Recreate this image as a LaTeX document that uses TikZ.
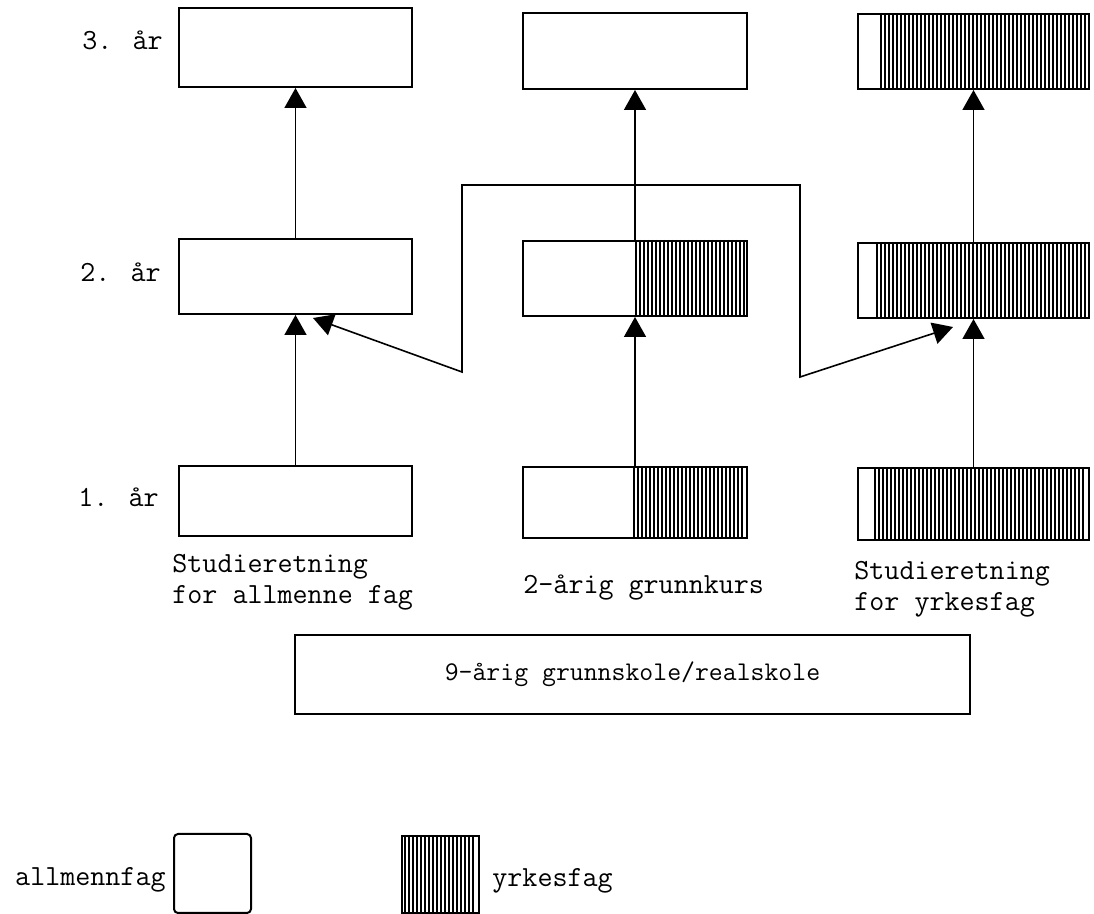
\documentclass[tikz,border=0pt]{standalone}
\usepackage{fontspec}
\usetikzlibrary{arrows.meta}
\begin{document}
\begin{tikzpicture}[x=0.5pt,y=-0.5pt,
  box/.style={draw,line width=1pt,inner sep=0pt,anchor=north west},
  hatch/.style={line width=0.7pt},
  arr/.style={line width=0.8pt,-{Triangle[length=10pt,width=11pt]}},
  lbl/.style={font=\ttfamily\fontsize{14.6}{17}\selectfont,inner sep=0pt},
  lblsmall/.style={font=\ttfamily\fontsize{13.5}{16}\selectfont,inner sep=0pt}]
\useasboundingbox (0,0) rectangle (1094,914);
% hatching
\foreach \x in {636,640,...,744} \draw[hatch] (\x,240) -- (\x,315);
\foreach \x in {634,638,...,744} \draw[hatch] (\x,466) -- (\x,537);
\foreach \x in {881,885,...,1086} \draw[hatch] (\x,13) -- (\x,88);
\foreach \x in {877,881,...,1086} \draw[hatch] (\x,242) -- (\x,317);
\foreach \x in {875,879,...,1086} \draw[hatch] (\x,467) -- (\x,539);
\foreach \x in {405,409,...,476} \draw[hatch] (\x,835) -- (\x,912);
% boxes
\node[box,minimum width=116.5pt,minimum height=39.5pt] (a3) at (178,7) {};
\node[box,minimum width=116.5pt,minimum height=37.5pt] (a2) at (178,238) {};
\node[box,minimum width=116.5pt,minimum height=35pt] (a1) at (178,465) {};
\node[box,minimum width=112pt,minimum height=38pt] (b3) at (522,12) {};
\node[box,minimum width=112pt,minimum height=37.5pt] (b2) at (522,240) {};
\node[box,minimum width=112pt,minimum height=35.5pt] (b1) at (522,466) {};
\node[box,minimum width=115.5pt,minimum height=37.5pt] (c3) at (857,13) {};
\node[box,minimum width=115.5pt,minimum height=37.5pt] (c2) at (857,242) {};
\node[box,minimum width=115.5pt,minimum height=36pt] (c1) at (857,467) {};
\node[box,minimum width=337.5pt,minimum height=39.5pt] (base) at (294,634) {};
\node[box,minimum width=38.5pt,minimum height=39.5pt,rounded corners=2pt] (lw) at (173,833) {};
\node[box,minimum width=38.5pt,minimum height=38.5pt] (lh) at (401,835) {};
% vertical arrows
\draw[arr] (a1.north) -- (a2.south);
\draw[arr] (a2.north) -- (a3.south);
\draw[arr] (b1.north) -- (b2.south);
\draw[arr] (b2.north) -- (b3.south);
\draw[arr] (c1.north) -- (c2.south);
\draw[arr] (c2.north) -- (c3.south);
% crossing connector
\coordinate (t1) at (313,318);
\coordinate (p1) at (462,372);
\coordinate (p2) at (462,185);
\coordinate (p3) at (800,185);
\coordinate (p4) at (800,377);
\coordinate (t2) at (953,327);
\draw[line width=0.8pt,{Triangle[length=10pt,width=11pt]}-{Triangle[length=10pt,width=11pt]}]
  (t1) -- (p1) -- (p2) -- (p3) -- (p4) -- (t2);
% labels
\node[lbl,anchor=base west] (y3) at (82,50) {3. år};
\node[lbl,anchor=base west] (y2) at (80,282) {2. år};
\node[lbl,anchor=base west] (y1) at (78,507) {1. år};
\node[lbl,anchor=base west] (la) at (172,573) {Studieretning};
\node[lbl,anchor=base west] (la2) at (172,604) {for allmenne fag};
\node[lbl,anchor=base west] (lb) at (523,594) {2-årig grunnkurs};
\node[lbl,anchor=base west] (lc) at (854,580) {Studieretning};
\node[lbl,anchor=base west] (lc2) at (854,611) {for yrkesfag};
\node[lblsmall] (lbase) at (base.center) {9-årig grunnskole/realskole};
\node[lbl,anchor=base east] (law) at (166,885) {allmennfag};
\node[lbl,anchor=base west] (lhy) at (492,886) {yrkesfag};
\end{tikzpicture}
\end{document}
